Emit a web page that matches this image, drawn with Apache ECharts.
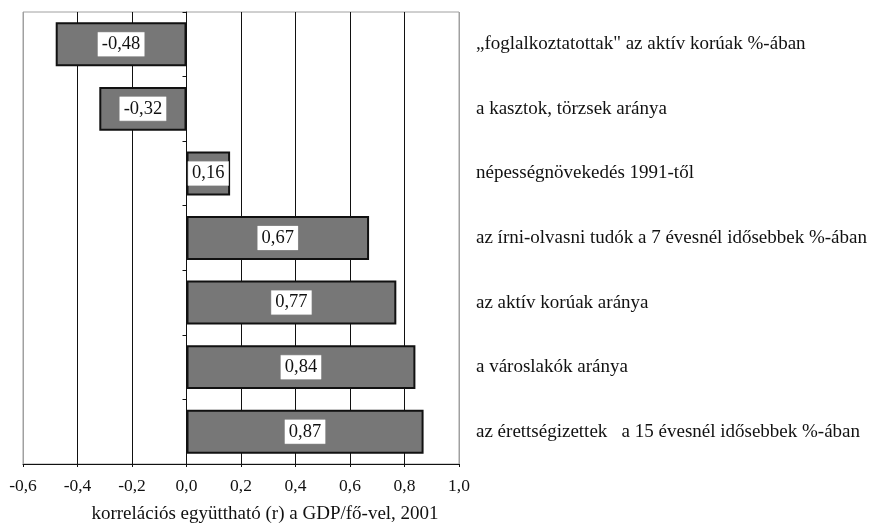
<!DOCTYPE html>
<html>
<head>
<meta charset="utf-8">
<script src="https://cdn.jsdelivr.net/npm/echarts@6/dist/echarts.min.js"></script>
<style>
  html, body { margin: 0; padding: 0; background: #fff; }
  #chart { width: 873px; height: 523px; }
</style>
</head>
<body>
<div id="chart"></div>
<script>
// kategóriák (fentről lefelé)
const categories = [
  "„foglalkoztatottak\" az aktív korúak %-ában",
  "a kasztok, törzsek aránya",
  "népességnövekedés 1991-től",
  "az írni-olvasni tudók a 7 évesnél idősebbek %-ában",
  "az aktív korúak aránya",
  "a városlakók aránya",
  "az érettségizettek   a 15 évesnél idősebbek %-ában"
];
// korrelációs együtthatók
const values = [-0.48, -0.32, 0.16, 0.67, 0.77, 0.84, 0.87];
const axisName = "korrelációs együttható (r) a GDP/fő-vel, 2001";

const serif = "'Liberation Serif', 'DejaVu Serif', serif";
const comma = (v, d) => v.toFixed(d).replace(".", ",");

const chart = echarts.init(document.getElementById("chart"));
const option = {
  animation: false,
  textStyle: { fontFamily: serif, color: "#111" },
  grid: {
    left: 23, right: 414, top: 12, bottom: 59,
    outerBoundsMode: "none",
    show: true, borderColor: "#a0a0a0", borderWidth: 1
  },
  xAxis: {
    type: "value",
    min: -0.6, max: 1.0, interval: 0.2,
    axisLine: { show: true, onZero: false, lineStyle: { color: "#111", width: 1 } },
    axisTick: { show: true, length: 3, lineStyle: { color: "#111" } },
    axisLabel: {
      fontFamily: serif, fontSize: 17.5, color: "#111", margin: 13,
      formatter: v => comma(v, 1)
    },
    splitLine: {
      show: true,
      lineStyle: {
        color: ["#a0a0a0", "#111", "#111", "#111", "#111", "#111", "#111", "#111", "#a0a0a0"],
        width: 1
      }
    },
    name: axisName,
    nameLocation: "middle",
    nameGap: 41,
    nameTextStyle: { fontFamily: serif, fontSize: 19, color: "#111", padding: [0, 0, 0, 48] }
  },
  yAxis: [
    {
      type: "category",
      data: categories,
      inverse: true,
      axisLine: { show: true, onZero: true, lineStyle: { color: "#111", width: 1 } },
      axisTick: { show: true, length: 4, lineStyle: { color: "#111" } },
      axisLabel: { show: false },
      splitLine: { show: false }
    },
    {
      type: "category",
      data: categories,
      inverse: true,
      position: "right",
      axisLine: { show: false },
      axisTick: { show: false },
      axisLabel: { fontFamily: serif, fontSize: 19, color: "#111", margin: 17 },
      splitLine: { show: false }
    }
  ],
  series: [{
    type: "bar",
    data: values,
    yAxisIndex: 0,
    barWidth: "68%",
    itemStyle: { color: "#777777", borderColor: "#111", borderWidth: 2 },
    label: {
      show: true,
      position: "inside",
      fontFamily: serif,
      fontSize: 18.5,
      color: "#111",
      backgroundColor: "#fff",
      borderColor: "#999",
      borderWidth: 0.5,
      padding: [3, 4, 2, 4],
      formatter: p => comma(p.value, 2)
    }
  }]
};
chart.setOption(option);
</script>
</body>
</html>
